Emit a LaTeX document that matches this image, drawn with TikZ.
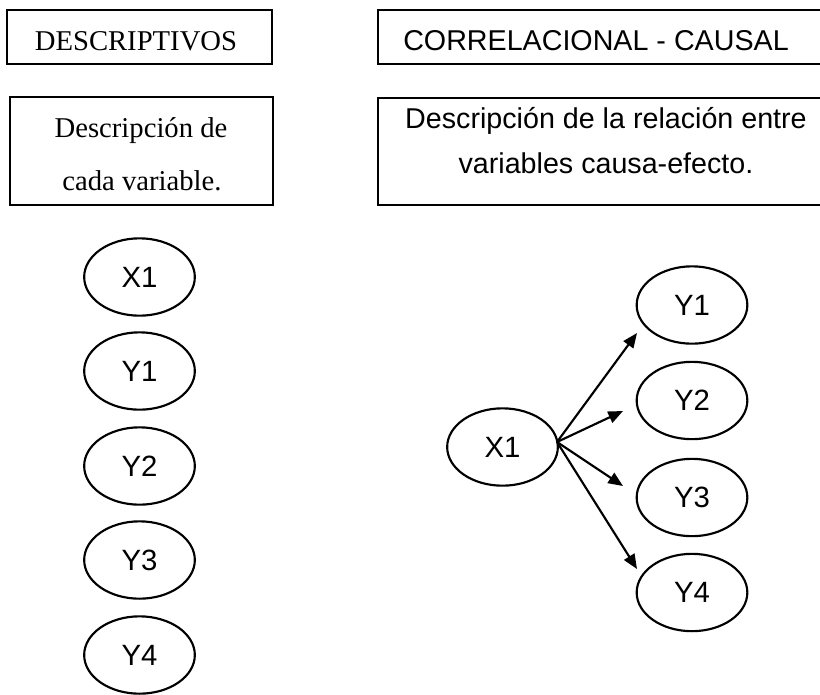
\documentclass[tikz,border=0pt]{standalone}
\usepackage{fontspec}
\setmainfont{Liberation Serif}
\newfontfamily\arialf{Liberation Sans}
\usetikzlibrary{shapes.geometric,arrows.meta}
\begin{document}
\begin{tikzpicture}[x=0.75pt,y=-0.75pt,
  boxline/.style={draw=black,line width=1.6pt},
  serif/.style={font=\fontsize{21.5}{26}\selectfont,inner sep=0pt,anchor=base},
  sans/.style={font=\arialf\fontsize{21.5}{26}\selectfont,inner sep=0pt,anchor=base},
  var/.style={ellipse,draw=black,line width=1.6pt,minimum width=83pt,minimum height=58pt,inner sep=0pt,font=\arialf\fontsize{22}{26}\selectfont},
  arr/.style={line width=1.6pt,-{Triangle[length=11pt,width=9pt]}}]
\useasboundingbox (0,0) rectangle (820,694);
\clip (0,0) rectangle (820,694);
% boxes
\draw[boxline] (7,10) rectangle (272,64);
\draw[boxline] (10,97) rectangle (273,205);
\draw[boxline] (378,10) rectangle (835,64);
\draw[boxline] (378,98) rectangle (835,205);
% box texts
\node[serif] (t1) at (136,50) {DESCRIPTIVOS};
\node[sans] (t2) at (596,50) {CORRELACIONAL - CAUSAL};
\node[serif] (t3a) at (141,137) {Descripción de};
\node[serif] (t3b) at (142,190) {cada variable.};
\node[sans] (t4a) at (606,128) {Descripción de la relación entre};
\node[sans] (t4b) at (606,173) {variables causa-efecto.};
% left column
\node[var] (lx1) at (139.5,277) {X1};
\node[var] (ly1) at (139.5,371) {Y1};
\node[var] (ly2) at (139.5,466) {Y2};
\node[var] (ly3) at (139.5,560) {Y3};
\node[var] (ly4) at (139.5,655) {Y4};
% right diagram
\node[var] (rx1) at (502.5,447) {X1};
\node[var] (ry1) at (692,305) {Y1};
\node[var] (ry2) at (692,400.5) {Y2};
\node[var] (ry3) at (692,497.5) {Y3};
\node[var] (ry4) at (692,592.5) {Y4};
\coordinate (s) at (557,442);
\coordinate (e1) at (637,333);
\coordinate (e2) at (623,411);
\coordinate (e3) at (623,486);
\coordinate (e4) at (637,569);
\draw[arr] (s) -- (e1);
\draw[arr] (s) -- (e2);
\draw[arr] (s) -- (e3);
\draw[arr] (s) -- (e4);
\end{tikzpicture}
\end{document}
